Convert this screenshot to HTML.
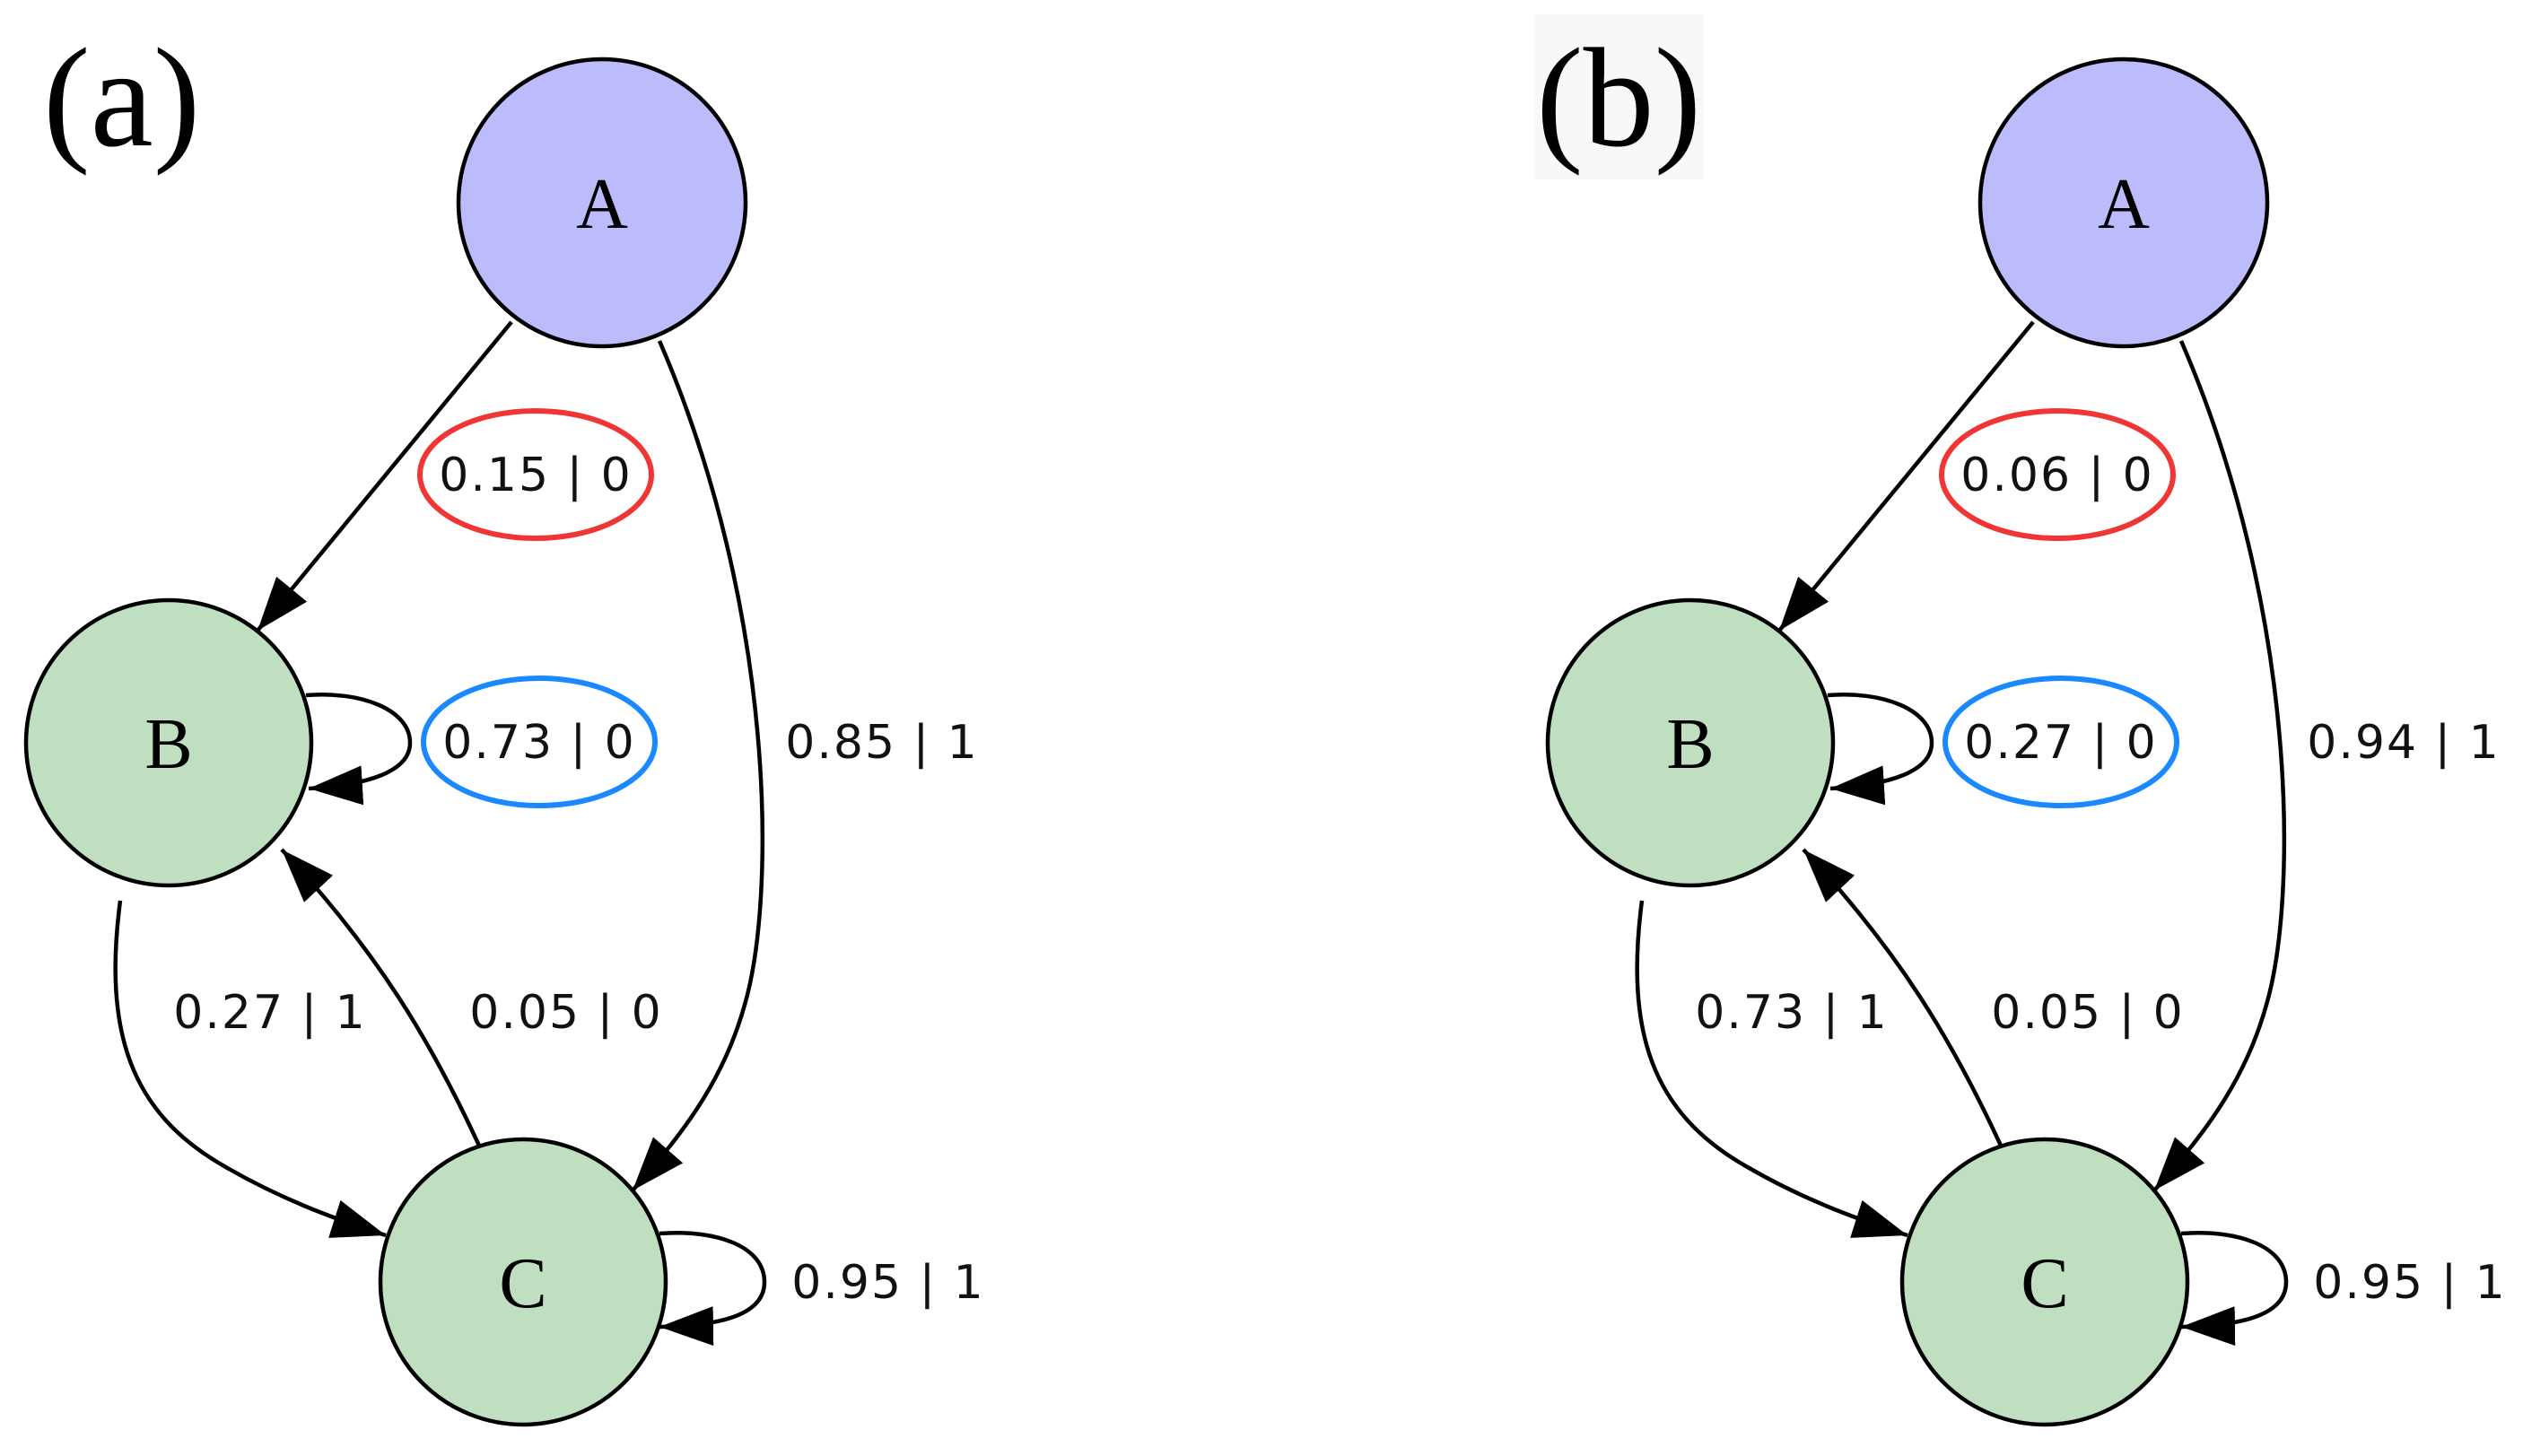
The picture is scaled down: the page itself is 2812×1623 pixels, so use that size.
<!DOCTYPE html>
<html><head><meta charset="utf-8"><style>
html,body{margin:0;padding:0;background:#fff;}
svg{display:block;}
.lbl{font-family:"DejaVu Sans","Liberation Sans",sans-serif;font-size:52px;fill:#111;letter-spacing:2px;}
.nd{font-family:"Liberation Serif",serif;font-size:80px;fill:#000;}
.pn{font-family:"Liberation Serif",serif;font-size:158px;fill:#000;}
</style></head><body>
<svg width="2812" height="1623" viewBox="0 0 2812 1623" xmlns="http://www.w3.org/2000/svg">
<defs>
<marker id="ar" markerUnits="userSpaceOnUse" markerWidth="64" markerHeight="48" refX="60" refY="22" orient="auto">
<path d="M0,0 L60,22 L0,44 Z" fill="#000"/>
</marker>
</defs>
<rect x="1711" y="16" width="188" height="184" fill="#f8f8f8"/>
<text class="pn" x="48" y="162">(a)</text>
<text class="pn" x="1712" y="162">(b)</text>

<g id="pa">
<g fill="none" stroke="#000" stroke-width="4.5">
<path d="M570,359 L287,703" marker-end="url(#ar)"/>
<path d="M735,380 C865,680 865,1000 830,1120 C805,1210 755,1270 705,1327" marker-end="url(#ar)"/>
<path d="M134,1004 C115,1150 145,1240 250,1300 C310,1335 370,1358 430,1377" marker-end="url(#ar)"/>
<path d="M534,1277 C480,1160 420,1060 314,947" marker-end="url(#ar)"/>
<path d="M341,775 C400,770 457,790 457,828 C457,860 410,875 344,879" marker-end="url(#ar)"/>
<path d="M735,1375 C800,1370 852,1390 852,1429 C852,1465 805,1478 735,1479" marker-end="url(#ar)"/>
</g>
<circle cx="671" cy="226" r="160" fill="#bcbcfc" stroke="#000" stroke-width="4.5"/>
<circle cx="188" cy="828" r="159" fill="#c0dfc0" stroke="#000" stroke-width="4.5"/>
<circle cx="583" cy="1429" r="159" fill="#c0dfc0" stroke="#000" stroke-width="4.5"/>
<text class="nd" x="671" y="254" text-anchor="middle">A</text>
<text class="nd" x="188" y="856" text-anchor="middle">B</text>
<text class="nd" x="583" y="1457" text-anchor="middle">C</text>
<ellipse cx="597" cy="529" rx="129" ry="71" fill="none" stroke="#f03535" stroke-width="6"/>
<ellipse cx="601" cy="827" rx="129" ry="71" fill="none" stroke="#1a88ff" stroke-width="6"/>
</g>
<g class="lbl" text-anchor="middle">
<text x="597" y="547">0.15 | 0</text>
<text x="601" y="845">0.73 | 0</text>
<text x="983" y="845">0.85 | 1</text>
<text x="301" y="1146">0.27 | 1</text>
<text x="631" y="1146">0.05 | 0</text>
<text x="990" y="1447">0.95 | 1</text>
</g>

<g transform="translate(1696,0)">
<g fill="none" stroke="#000" stroke-width="4.5">
<path d="M570,359 L287,703" marker-end="url(#ar)"/>
<path d="M735,380 C865,680 865,1000 830,1120 C805,1210 755,1270 705,1327" marker-end="url(#ar)"/>
<path d="M134,1004 C115,1150 145,1240 250,1300 C310,1335 370,1358 430,1377" marker-end="url(#ar)"/>
<path d="M534,1277 C480,1160 420,1060 314,947" marker-end="url(#ar)"/>
<path d="M341,775 C400,770 457,790 457,828 C457,860 410,875 344,879" marker-end="url(#ar)"/>
<path d="M735,1375 C800,1370 852,1390 852,1429 C852,1465 805,1478 735,1479" marker-end="url(#ar)"/>
</g>
<circle cx="671" cy="226" r="160" fill="#bcbcfc" stroke="#000" stroke-width="4.5"/>
<circle cx="188" cy="828" r="159" fill="#c0dfc0" stroke="#000" stroke-width="4.5"/>
<circle cx="583" cy="1429" r="159" fill="#c0dfc0" stroke="#000" stroke-width="4.5"/>
<text class="nd" x="671" y="254" text-anchor="middle">A</text>
<text class="nd" x="188" y="856" text-anchor="middle">B</text>
<text class="nd" x="583" y="1457" text-anchor="middle">C</text>
<ellipse cx="597" cy="529" rx="129" ry="71" fill="none" stroke="#f03535" stroke-width="6"/>
<ellipse cx="601" cy="827" rx="129" ry="71" fill="none" stroke="#1a88ff" stroke-width="6"/>
<g class="lbl" text-anchor="middle">
<text x="597" y="547">0.06 | 0</text>
<text x="601" y="845">0.27 | 0</text>
<text x="983" y="845">0.94 | 1</text>
<text x="301" y="1146">0.73 | 1</text>
<text x="631" y="1146">0.05 | 0</text>
<text x="990" y="1447">0.95 | 1</text>
</g>
</g>
</svg>
</body></html>
